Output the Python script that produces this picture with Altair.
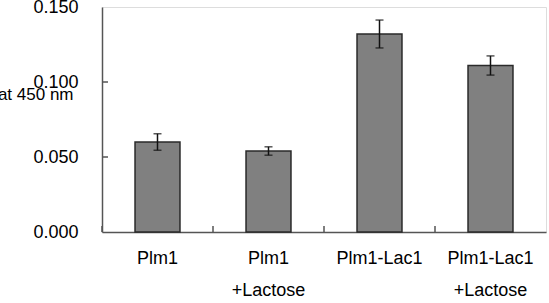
import altair as alt
import pandas as pd

# Absorbance readings per strain / condition
categories = ["Plm1", "Plm1 +Lactose", "Plm1-Lac1", "Plm1-Lac1 +Lactose"]
means = [0.060, 0.054, 0.132, 0.111]
errors = [0.0055, 0.0028, 0.0093, 0.0064]

y_tick_values = [0.0, 0.05, 0.10, 0.15]
inner_ticks = [0.05, 0.10]

df = pd.DataFrame({"group": categories, "value": means, "err": errors})
df["lo"] = df["value"] - df["err"]
df["hi"] = df["value"] + df["err"]
ticks_df = pd.DataFrame({"v": inner_ticks})

FONT = "Liberation Sans"

x_scale = alt.Scale(domain=categories, paddingInner=0, paddingOuter=0)
y_scale = alt.Scale(domain=[0, 0.15], nice=False, zero=True)

x_enc = alt.X(
    "group:N",
    scale=x_scale,
    sort=categories,
    axis=alt.Axis(
        title=None,
        labelAngle=0,
        labelExpr="split(datum.label, ' ')",
        labelFont=FONT,
        labelFontSize=18,
        labelColor="black",
        labelPadding=17,
        labelLineHeight=32,
        labelBaseline="top",
        ticks=False,
        domainColor="#555555",
        domainWidth=1.5,
    ),
)

y_axis = alt.Axis(
    title="at 450 nm",
    titleAngle=0,
    titleAlign="right",
    titleBaseline="alphabetic",
    titleX=-29,
    titleY=92,
    titleFont=FONT,
    titleFontSize=17,
    titleFontWeight="normal",
    titleColor="black",
    values=y_tick_values,
    format=".3f",
    labelFont=FONT,
    labelFontSize=18,
    labelColor="black",
    labelPadding=24,
    tickSize=0,
    grid=False,
    domainColor="#555555",
    domainWidth=1.5,
)

bars = alt.Chart(df).mark_bar(
    width=alt.RelativeBandSize(0.405),
    fill="#808080",
    stroke="#2a2a2a",
    strokeWidth=1.5,
).encode(
    x=x_enc,
    y=alt.Y("value:Q", scale=y_scale, axis=y_axis),
)

whisker = alt.Chart(df).mark_rule(color="#111111", strokeWidth=1.5).encode(
    x=alt.X("group:N", sort=categories),
    y=alt.Y("lo:Q"),
    y2="hi:Q",
)

caps_hi = alt.Chart(df).mark_tick(color="#111111", size=8, thickness=1.5).encode(
    x=alt.X("group:N", sort=categories),
    y=alt.Y("hi:Q"),
)
caps_lo = alt.Chart(df).mark_tick(color="#111111", size=8, thickness=1.5).encode(
    x=alt.X("group:N", sort=categories),
    y=alt.Y("lo:Q"),
)

# inward tick marks on the value axis
y_ticks = alt.Chart(ticks_df).mark_rule(color="#555555", strokeWidth=1.5).encode(
    y=alt.Y("v:Q"),
    x=alt.value(0),
    x2=alt.value(6),
)

# inward tick marks between categories
x_ticks = alt.Chart(df).mark_rule(color="#555555", strokeWidth=1.5).encode(
    x=alt.X("group:N", sort=categories, bandPosition=0),
    y=alt.value(225),
    y2=alt.value(219),
)

chart = alt.layer(bars, whisker, caps_hi, caps_lo, y_ticks, x_ticks).properties(
    width=444,
    height=225,
    padding={"left": 102, "top": 7, "right": 3, "bottom": 71},
    autosize=alt.AutoSizeParams(type="none"),
).configure_view(
    stroke="#8a8a8a",
    strokeWidth=1.5,
).configure(background="white")

chart.save("out.html", embed_options={"renderer": "svg", "actions": False})
